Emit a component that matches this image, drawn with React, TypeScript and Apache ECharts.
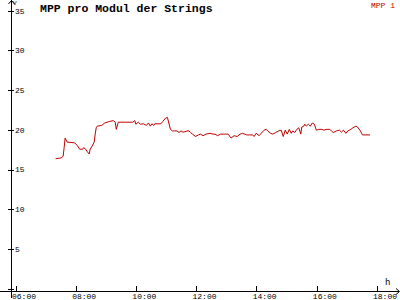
import React, { useEffect, useRef } from "react";
import * as echarts from "echarts";

const seriesName = "MPP 1";
const times = [
  "07:19", "07:30", "07:34", "07:36", "07:38", "07:42", "07:57", "08:03", "08:07", "08:13",
  "08:15", "08:19", "08:22", "08:26", "08:28", "08:32", "08:36", "08:38", "08:40", "08:42",
  "08:51", "08:57", "09:07", "09:14", "09:18", "09:20", "09:24", "09:39", "09:53", "09:57",
  "09:59", "10:04", "10:08", "10:14", "10:20", "10:24", "10:28", "10:31", "10:35", "10:37",
  "10:49", "10:53", "10:58", "11:02", "11:08", "11:12", "11:16", "11:21", "11:25", "11:29",
  "11:33", "11:37", "11:41", "11:45", "11:48", "11:52", "11:58", "12:04", "12:08", "12:13",
  "12:19", "12:27", "12:33", "12:37", "12:42", "12:48", "12:58", "13:03", "13:09", "13:15",
  "13:21", "13:27", "13:32", "13:40", "13:46", "13:52", "13:55", "13:59", "14:05", "14:09",
  "14:15", "14:19", "14:22", "14:28", "14:32", "14:38", "14:44", "14:49", "14:53", "14:57",
  "15:01", "15:05", "15:09", "15:12", "15:16", "15:20", "15:24", "15:28", "15:30", "15:34",
  "15:36", "15:39", "15:43", "15:47", "15:51", "15:55", "15:59", "16:04", "16:10", "16:14",
  "16:20", "16:26", "16:29", "16:33", "16:39", "16:45", "16:49", "16:53", "16:58", "17:02",
  "17:08", "17:12", "17:18", "17:21", "17:27", "17:31", "17:46",
];
const mpp1 = [
  16.4, 16.5, 16.7, 17.8, 19.0, 18.5, 18.4, 18.0, 17.6, 17.6,
  17.8, 17.6, 17.3, 17.0, 17.6, 18.0, 18.5, 19.5, 20.3, 20.5,
  20.6, 20.9, 21.1, 21.2, 21.0, 20.1, 21.0, 21.0, 21.0, 21.2,
  20.75, 21.0, 20.75, 20.8, 20.6, 20.9, 20.5, 20.8, 20.6, 20.8,
  20.8, 21.1, 21.5, 21.6, 20.1, 19.9, 19.9, 19.9, 19.7, 19.9,
  19.75, 19.8, 19.9, 19.9, 19.7, 19.5, 19.2, 19.4, 19.5, 19.3,
  19.5, 19.6, 19.5, 19.5, 19.3, 19.5, 19.5, 19.5, 19.0, 19.3,
  19.2, 19.5, 19.6, 19.4, 19.4, 19.4, 19.2, 19.6, 19.3, 19.6,
  20.0, 20.1, 19.9, 19.6, 19.5, 19.7, 19.9, 20.0, 19.2, 20.0,
  19.5, 20.1, 19.6, 19.9, 19.7, 20.1, 20.3, 19.5, 20.4, 20.5,
  20.75, 20.5, 20.75, 20.5, 20.9, 20.75, 20.0, 20.1, 20.1, 20.0,
  20.1, 20.1, 19.9, 19.7, 19.9, 20.0, 19.75, 20.0, 19.6, 19.9,
  20.1, 20.3, 20.5, 20.4, 19.9, 19.4, 19.4,
];
const xMin = 6;
const xMax = 18;
const xStep = 2;
const yMin = 0;
const yMax = 35;
const yStep = 5;
const titleText = "MPP pro Modul der Strings";
const yUnit = "V";
const xUnit = "h";

const MONO = "'Liberation Mono', 'DejaVu Sans Mono', monospace";
const RED = "#c00000";

function toHours(t: string): number {
  const [h, m] = t.split(":").map(Number);
  return h + m / 60;
}

export default function App() {
  const ref = useRef<HTMLDivElement>(null);
  useEffect(() => {
    if (!ref.current) return;
    const chart = echarts.init(ref.current, undefined, { renderer: "svg" });
    const data = times.map((t, i) => [toHours(t), mpp1[i]]);
    const xCommon = {
      type: "value" as const,
      min: xMin,
      max: xMax,
      interval: xStep,
      position: "bottom" as const,
      axisLine: { show: false },
      splitLine: { show: false },
    };
    const yCommon = {
      type: "value" as const,
      min: yMin,
      max: yMax,
      interval: yStep,
      position: "left" as const,
      offset: 5,
      axisLine: { show: false },
      splitLine: { show: false },
    };
    chart.setOption({
      animation: false,
      backgroundColor: "#ffffff",
      title: {
        text: titleText,
        left: 40,
        top: 2,
        padding: 0,
        textStyle: { fontFamily: MONO, fontWeight: "bold", fontSize: 11.5, color: "#000" },
      },
      legend: {
        data: [{ name: seriesName, icon: "none" }],
        right: 5,
        top: 1,
        padding: 0,
        itemWidth: 0,
        itemHeight: 0,
        textStyle: { color: RED, fontFamily: MONO, fontSize: 8, padding: 0 },
      },
      grid: { left: 16, right: 10, top: 11, bottom: 9, containLabel: false },
      xAxis: [
        {
          ...xCommon,
          axisTick: { show: true, length: 3, lineStyle: { color: "#000" } },
          axisLabel: {
            show: true,
            color: "#000",
            fontFamily: MONO,
            fontSize: 8,
            margin: 3,
            align: "left",
            padding: [0, 0, 0, -4],
            formatter: (v: number) => String(v).padStart(2, "0") + ":00",
          },
        },
        {
          ...xCommon,
          axisTick: { show: true, inside: true, length: 3, lineStyle: { color: "#000" } },
          axisLabel: { show: false },
        },
      ],
      yAxis: [
        {
          ...yCommon,
          axisTick: { show: true, inside: true, length: 3, lineStyle: { color: "#000" } },
          axisLabel: {
            show: true,
            inside: true,
            margin: 4,
            color: "#000",
            fontFamily: MONO,
            fontSize: 8,
            formatter: (v: number) => (v === 0 ? "" : String(v)),
          },
        },
        {
          ...yCommon,
          axisTick: { show: true, length: 3, lineStyle: { color: "#000" } },
          axisLabel: { show: false },
        },
      ],
      graphic: [
        { type: "line", shape: { x1: 11.5, y1: 0, x2: 11.5, y2: 298 }, style: { stroke: "#000", lineWidth: 1 }, silent: true },
        { type: "polyline", shape: { points: [[8.5, 4], [11.5, 0.5], [14.5, 4]] }, style: { stroke: "#000", lineWidth: 1, fill: null }, silent: true },
        { type: "line", shape: { x1: 0, y1: 291.5, x2: 399, y2: 291.5 }, style: { stroke: "#000", lineWidth: 1 }, silent: true },
        { type: "polyline", shape: { points: [[396, 288.5], [399.5, 291.5], [396, 294.5]] }, style: { stroke: "#000", lineWidth: 1, fill: null }, silent: true },
        { type: "text", x: 13, y: 0, style: { text: yUnit, font: `6px ${MONO}`, fill: "#000" }, silent: true },
        { type: "text", x: 385, y: 278, style: { text: xUnit, font: `9px ${MONO}`, fill: "#000" }, silent: true },
      ],
      series: [
        {
          name: seriesName,
          type: "line",
          xAxisIndex: 0,
          yAxisIndex: 0,
          data,
          showSymbol: false,
          color: RED,
          lineStyle: { color: RED, width: 1 },
        },
      ],
    });
    return () => chart.dispose();
  }, []);
  return (
    <div
      ref={ref}
      style={{ position: "fixed", left: 0, top: 0, width: 400, height: 300, background: "#fff" }}
    />
  );
}
